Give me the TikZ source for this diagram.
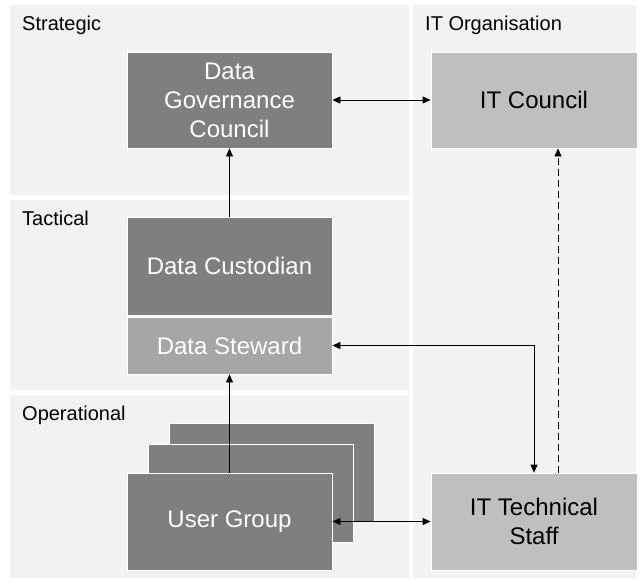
\documentclass[tikz,border=0pt]{standalone}
\usepackage{fontspec}
\setmainfont{Liberation Sans}
\usetikzlibrary{positioning,calc,arrows.meta}

\definecolor{panel}{HTML}{F2F2F2}
\definecolor{darkbox}{HTML}{7F7F7F}
\definecolor{midbox}{HTML}{A6A6A6}
\definecolor{lightbox}{HTML}{BFBFBF}

\tikzset{
  box/.style={draw=white, line width=0.8pt, minimum width=205pt, inner sep=0pt,
    align=center, font=\fontsize{24}{29}\selectfont},
  darkbx/.style={box, fill=darkbox, text=white},
  lightbx/.style={box, fill=lightbox, text=black},
  level/.style={anchor=base west, inner sep=0pt, font=\fontsize{20}{24}\selectfont},
  link/.style={line width=0.8pt, -{Triangle[length=8pt,width=7pt]}},
  both/.style={line width=0.8pt, {Triangle[length=8pt,width=7pt]}-{Triangle[length=8pt,width=7pt]}},
}

\begin{document}
\begin{tikzpicture}[x=1pt,y=-1pt]
\useasboundingbox (0,0) rectangle (641,582);

% PANELS

\fill[panel] (10,5)   rectangle (409,195);
\fill[panel] (10,200) rectangle (409,390);
\fill[panel] (10,395) rectangle (409,578);
\fill[panel] (413,5)  rectangle (636,578);

\node[level] (strat) at (22,30)  {Strategic};
\node[level] (tact)  at (22,225) {Tactical};
\node[level] (oper)  at (22,420) {Operational};
\node[level] (itorg) at (425,30) {IT Organisation};

% STRATEGIC

\node[darkbx, minimum height=96pt] (dgc) at (229.5,100) {Data\\Governance\\Council};
\node[lightbx, minimum height=96pt, minimum width=206pt] (itc) at (534,100) {IT Council};

% TACTICAL

\node[darkbx, minimum height=98pt] (cust) at (229.5,266) {Data Custodian};
\node[box, fill=midbox, text=white, minimum height=57pt] (stew) at (229.5,345.5) {Data Steward};

% OPERATIONAL

\coordinate (ugpos) at (229.5,521.5);
\node[darkbx, minimum height=98pt] (ug3) at ($(ugpos)+(42,-49)$) {};
\node[darkbx, minimum height=98pt] (ug2) at ($(ugpos)+(21,-28)$) {};
\node[darkbx, minimum height=97pt] (ug)  at (ugpos) {User Group};

\node[lightbx, minimum height=97pt, minimum width=206pt] (its) at (534,521.5) {IT Technical\\Staff};

% LINKS

\draw[both] (dgc) -- (itc);
\draw[link] (cust) -- (dgc);
\draw[link] (ug) -- (stew);
\draw[both] (ug) -- (its);
\draw[both] (stew.east) -| (its.north);
\draw[link, dash pattern=on 7pt off 4pt] ([xshift=24pt]its.north) -- ([xshift=24pt]itc.south);

\end{tikzpicture}
\end{document}
